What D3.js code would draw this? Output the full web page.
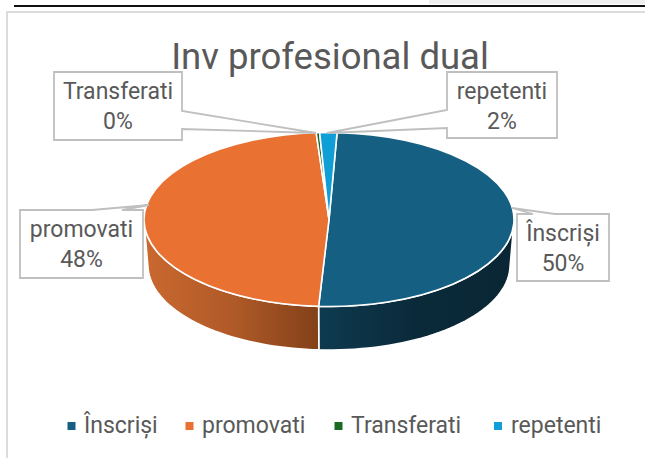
<!DOCTYPE html>
<html><head><meta charset="utf-8">
<script src="https://cdn.jsdelivr.net/npm/d3@7"></script>
<style>html,body{margin:0;padding:0;background:#fff}svg{display:block}text{font-family:Roboto,sans-serif;fill:#595959}</style>
</head><body><svg id="c" width="645" height="458"></svg>
<script>
const title = "Inv profesional dual";
const categories = ["Înscriși","promovati","Transferati","repetenti"];
const values = [50.2,48,0.3,1.5];
const colors = ["#156082","#E97132","#196B24","#0F9ED5"];
const svg = d3.select("#c");
svg.append("rect").attr("x",429).attr("y",0).attr("width",84).attr("height",4).attr("fill","#efefef");
svg.append("rect").attr("x",511).attr("y",0).attr("width",134).attr("height",4).attr("fill","#efefef");
svg.append("rect").attr("x",14).attr("y",5).attr("width",631).attr("height",2).attr("fill","#111");
svg.append("path").attr("d","M645 12H7V458").attr("fill","none").attr("stroke","#dcdcdc").attr("stroke-width",2);
svg.append("text").attr("x",330).attr("y",69).attr("text-anchor","middle").attr("font-size",36.5).text(title);

const defs = svg.append("defs");
const g1 = defs.append("linearGradient").attr("id","wall0").attr("gradientUnits","userSpaceOnUse").attr("x1",318).attr("x2",514).attr("y1",0).attr("y2",0);
g1.append("stop").attr("offset",0).attr("stop-color","#0e3a4f");
g1.append("stop").attr("offset",0.5).attr("stop-color","#0a2a3a");
g1.append("stop").attr("offset",1).attr("stop-color","#0a2634");
const g2 = defs.append("linearGradient").attr("id","wall1").attr("gradientUnits","userSpaceOnUse").attr("x1",146).attr("x2",318).attr("y1",0).attr("y2",0);
g2.append("stop").attr("offset",0).attr("stop-color","#c9682f");
g2.append("stop").attr("offset",0.5).attr("stop-color","#b05a28");
g2.append("stop").attr("offset",1).attr("stop-color","#834119");

const start = 2.5*Math.PI/180;
const pie = d3.pie().sort(null).value(d=>d).startAngle(start).endAngle(start+2*Math.PI);
const arcs = pie(values);
const cx=329, cy=219.5, rx=185, ry=87, rxB=181, ryB=85, cyB=265;
const topPt = t=>[cx+rx*Math.sin(t), cy-ry*Math.cos(t)];
const botPt = t=>[cx+rxB*Math.sin(t), cyB-ryB*Math.cos(t)];
const line = d3.line();
// side walls: only the front half of each slice is visible
arcs.forEach((a,i)=>{
  const lo=Math.max(a.startAngle,Math.PI/2+0.05), hi=Math.min(a.endAngle,3*Math.PI/2-0.05);
  if(hi<=lo) return;
  const ts=d3.range(0,41).map(k=>lo+(hi-lo)*k/40);
  const pts=ts.map(topPt).concat(ts.slice().reverse().map(botPt));
  svg.append("path").attr("d",line(pts)+"Z").attr("fill","url(#wall"+i+")").attr("stroke","#fff").attr("stroke-width",1.5).attr("stroke-linejoin","round");
});
// top face
const gt=svg.append("g").attr("transform",`translate(${cx},${cy}) scale(1,${ry/rx})`);
const arc=d3.arc().innerRadius(0).outerRadius(rx);
gt.selectAll("path").data(arcs).join("path").attr("d",arc).attr("fill",(d,i)=>colors[i])
  .attr("stroke","#fff").attr("stroke-width",1.6).attr("vector-effect","non-scaling-stroke");

// callouts
const boxes=[
 {x:517,y:214,w:92,h:67,tip:[512,208],base:[533,555],side:"top"},
 {x:20,y:210,w:123,h:68,tip:[149,205],base:[92,122],side:"top"},
 {x:54,y:72,w:128,h:68,tip:[316,133],base:[111,129],side:"right"},
 {x:447,y:72,w:110,h:66,tip:[327,133],base:[110,128],side:"left"}
];
const pct=d3.format(".0f");
boxes.forEach((b,i)=>{
  let p;
  const {x,y,w,h,tip,base}=b;
  if(b.side==="top") p=[[x,y],[base[0],y],tip,[base[1],y],[x+w,y],[x+w,y+h],[x,y+h]];
  if(b.side==="right") p=[[x,y],[x+w,y],[x+w,base[0]],tip,[x+w,base[1]],[x+w,y+h],[x,y+h]];
  if(b.side==="left") p=[[x,y],[x+w,y],[x+w,y+h],[x,y+h],[x,base[1]],tip,[x,base[0]]];
  svg.append("path").attr("d",line(p)+"Z").attr("fill","#fff").attr("stroke","#bfbfbf").attr("stroke-width",1.8);
  const t=svg.append("text").attr("text-anchor","middle").attr("font-size",23);
  t.append("tspan").attr("x",x+w/2).attr("y",y+27).text(categories[i]);
  t.append("tspan").attr("x",x+w/2).attr("y",y+57).text(pct(values[i])+"%");
});

// legend
const legendX=[[67.5,84],[185.5,202],[334.5,351],[494,511]];
categories.forEach((c,i)=>{
  svg.append("rect").attr("x",legendX[i][0]).attr("y",422).attr("width",8).attr("height",8).attr("fill",colors[i]);
  svg.append("text").attr("x",legendX[i][1]).attr("y",433).attr("font-size",23).text(c);
});
</script></body></html>
